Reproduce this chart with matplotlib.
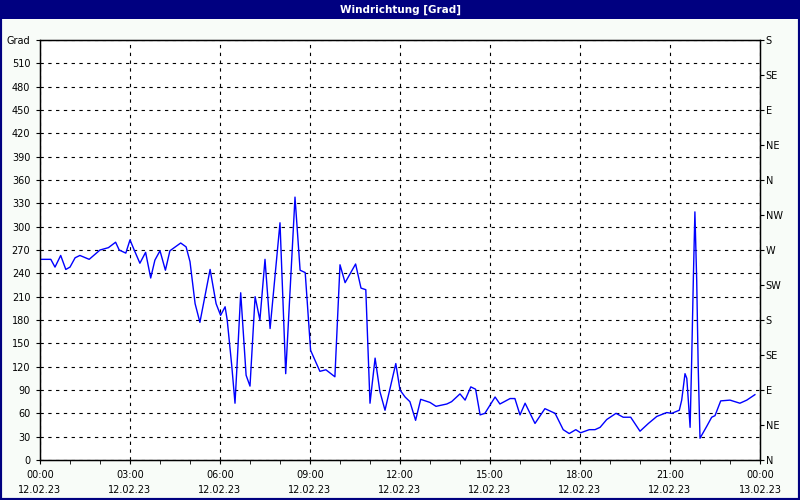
import numpy as np
import matplotlib
matplotlib.use("Agg")
import matplotlib.pyplot as plt
from matplotlib.patches import Rectangle

# wind direction readings: hours since 12.02.23 00:00 and degrees
hours = [0.03, 0.36, 0.5, 0.69, 0.86, 1.0, 1.17, 1.33, 1.64, 2.0,
         2.28, 2.52, 2.64, 2.86, 3.0, 3.14, 3.33, 3.52, 3.69, 3.83,
         4.0, 4.18, 4.33, 4.69, 4.87, 5.0, 5.17, 5.33, 5.67, 5.87,
         6.02, 6.17, 6.24, 6.39, 6.5, 6.56, 6.69, 6.87, 7.0, 7.17,
         7.33, 7.5, 7.67, 8.0, 8.19, 8.5, 8.67, 8.84, 9.02, 9.33,
         9.53, 9.83, 10.0, 10.17, 10.52, 10.7, 10.86, 11.0, 11.17, 11.33,
         11.5, 11.86, 12.0, 12.17, 12.33, 12.52, 12.69, 13.0, 13.2, 13.56,
         13.72, 14.0, 14.17, 14.36, 14.52, 14.67, 14.83, 15.17, 15.33, 15.67,
         15.83, 16.0, 16.17, 16.5, 16.83, 17.17, 17.44, 17.64, 17.86, 18.02,
         18.31, 18.5, 18.67, 18.89, 19.2, 19.44, 19.69, 20.0, 20.28, 20.56,
         20.89, 21.06, 21.31, 21.39, 21.5, 21.56, 21.61, 21.67, 21.72, 21.78,
         21.83, 21.89, 21.94, 22.0, 22.22, 22.39, 22.5, 22.69, 23.0, 23.33,
         23.56, 23.83]
grad = [258, 258, 248, 263, 245, 248, 260, 263, 258, 270,
        273, 280, 270, 266, 283, 270, 253, 267, 234, 257,
        269, 244, 269, 279, 274, 255, 201, 177, 245, 201,
        186, 197, 180, 122, 73, 116, 215, 109, 95, 210,
        180, 258, 169, 305, 111, 338, 244, 241, 141, 114,
        116, 107, 251, 228, 252, 221, 219, 73, 131, 88,
        64, 124, 90, 81, 75, 51, 78, 74, 69, 72,
        75, 85, 77, 94, 91, 58, 60, 81, 72, 79,
        79, 58, 73, 47, 66, 60, 39, 34, 39, 35,
        39, 39, 42, 52, 60, 55, 55, 37, 47, 56,
        61, 60, 64, 77, 111, 105, 77, 42, 124, 236,
        319, 231, 120, 28, 43, 55, 57, 76, 77, 73,
        77, 84]
left_ticks = list(range(0, 541, 30))
left_labels = [str(v) for v in left_ticks[:-1]] + ["Grad"]
compass_ticks = list(range(0, 541, 45))
compass_labels = ["N", "NE", "E", "SE", "S", "SW", "W", "NW", "N", "NE", "E", "SE", "S"]
x_ticks = list(range(0, 25, 3))
x_labels = [f"{h % 24:02d}:00\n{'13.02.23' if h == 24 else '12.02.23'}" for h in x_ticks]

navy = "#000080"
fig = plt.figure(figsize=(8, 5), dpi=100, facecolor="#F8FCF8")
fig.patches.append(Rectangle((0, 0), 1, 1, transform=fig.transFigure, fill=False,
                             edgecolor=navy, lw=3, zorder=10))
fig.patches.append(Rectangle((0, 0.962), 1, 0.038, transform=fig.transFigure,
                             facecolor=navy, edgecolor="none", zorder=5))
fig.text(0.5, 0.981, "Windrichtung [Grad]", color="white", ha="center", va="center",
         fontsize=7.5, fontweight="bold", zorder=11)

ax = fig.add_axes([0.05, 0.08, 0.90, 0.84])
ax.set_facecolor("white")
ax.plot(hours, grad, color="#0000FF", lw=1)
ax.set_xlim(0, 24)
ax.set_ylim(0, 540)
ax.set_yticks(left_ticks)
ax.set_yticklabels(left_labels, fontsize=7)
ax.set_xticks(x_ticks)
ax.set_xticklabels(x_labels, fontsize=7, linespacing=1.6)
ax.set_xticks(range(0, 25), minor=True)
ax.tick_params(axis="both", which="both", length=3, direction="out", color="black", pad=4)
ax.tick_params(axis="x", pad=4)
ax.grid(True, color="black", ls=(0, (3, 4)), lw=0.8)
for sp in ax.spines.values():
    sp.set_color("black"); sp.set_linewidth(1)

ax2 = ax.twinx()
ax2.set_ylim(0, 540)
ax2.set_yticks(compass_ticks)
ax2.set_yticklabels(compass_labels, fontsize=7)
ax2.tick_params(axis="y", length=3, direction="out", pad=1)

fig.savefig("out.png", dpi=100, facecolor=fig.get_facecolor())
